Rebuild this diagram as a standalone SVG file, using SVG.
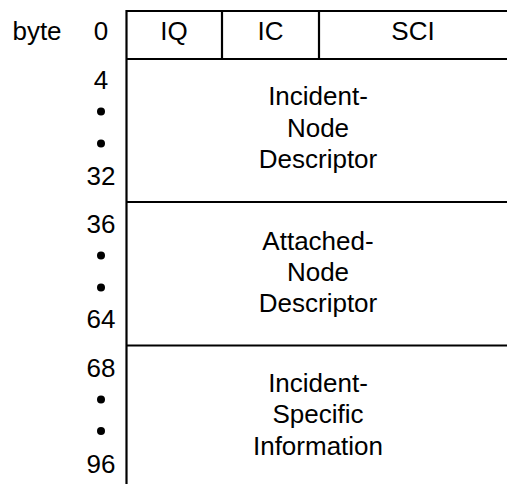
<svg xmlns="http://www.w3.org/2000/svg" width="507" height="484" viewBox="0 0 507 484">
<style>
text{font-family:"Liberation Sans",Arial,sans-serif;font-size:26px;fill:#000;text-anchor:middle}
.ln{stroke:#000;stroke-width:2.2;fill:none}
.dot{fill:#000}
</style>
<rect width="507" height="484" fill="#fff"/>
<g id="connectors">
<line class="ln" x1="126.5" y1="11" x2="507" y2="11"/>
<line class="ln" x1="126.5" y1="10" x2="126.5" y2="484"/>
<line class="ln" x1="126.5" y1="59" x2="507" y2="59"/>
<line class="ln" x1="222" y1="11" x2="222" y2="59"/>
<line class="ln" x1="319" y1="11" x2="319" y2="59"/>
<line class="ln" x1="126.5" y1="202" x2="507" y2="202"/>
<line class="ln" x1="126.5" y1="345.5" x2="507" y2="345.5"/>
</g>
<g id="labels">
<text x="37" y="40">byte</text>
<text x="101" y="40">0</text>
</g>
<g id="header">
<text x="174" y="40">IQ</text>
<text x="270.5" y="40">IC</text>
<text x="413" y="40">SCI</text>
</g>
<g id="row1">
<text x="101" y="89">4</text>
<circle class="dot" cx="101" cy="111.5" r="4"/>
<circle class="dot" cx="101" cy="143.5" r="4"/>
<text x="101" y="185">32</text>
<text x="318" y="105">Incident-</text>
<text x="318" y="137">Node</text>
<text x="318" y="168">Descriptor</text>
</g>
<g id="row2">
<text x="101" y="233">36</text>
<circle class="dot" cx="101" cy="255.5" r="4"/>
<circle class="dot" cx="101" cy="287.5" r="4"/>
<text x="101" y="328">64</text>
<text x="318" y="250">Attached-</text>
<text x="318" y="281">Node</text>
<text x="318" y="312">Descriptor</text>
</g>
<g id="row3">
<text x="101" y="377">68</text>
<circle class="dot" cx="101" cy="399.5" r="4"/>
<circle class="dot" cx="101" cy="431" r="4"/>
<text x="101" y="473">96</text>
<text x="318" y="392">Incident-</text>
<text x="318" y="423">Specific</text>
<text x="318" y="455">Information</text>
</g>
</svg>
